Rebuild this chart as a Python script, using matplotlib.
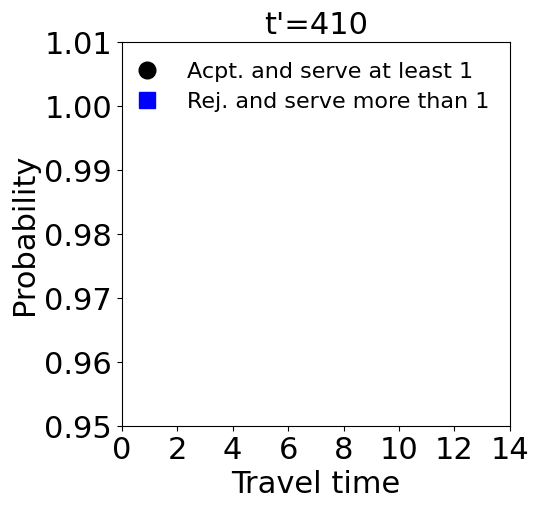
import numpy as np
import matplotlib.pyplot as plt

# travel time / probability pairs -- nothing falls inside the plotted window
travel_acpt = []
prob_acpt = []
travel_rej = []
prob_rej = []

x_ticks = [0, 2, 4, 6, 8, 10, 12, 14]
y_ticks = [0.95, 0.96, 0.97, 0.98, 0.99, 1.00, 1.01]

fig = plt.figure(figsize=(5.39, 5.09), dpi=100)
ax = fig.add_axes([0.226, 0.163, 0.72, 0.754])

ax.plot(travel_acpt, prob_acpt, 'o', color='black', markersize=12,
        label='Acpt. and serve at least 1')
ax.plot(travel_rej, prob_rej, 's', color='blue', markersize=12,
        label='Rej. and serve more than 1')

ax.set_xlim(0, 14)
ax.set_ylim(0.95, 1.01)
ax.set_xticks(x_ticks)
ax.set_yticks(y_ticks)
ax.set_yticklabels(['%.2f' % v for v in y_ticks])
ax.tick_params(labelsize=22)
ax.set_xlabel('Travel time', fontsize=22, labelpad=4)
ax.set_ylabel('Probability', fontsize=22, labelpad=4)
ax.set_title("t'=410", fontsize=22)
ax.legend(loc='upper left', frameon=False, fontsize=16,
          handlelength=0.46, handletextpad=1.57, labelspacing=0.45)

plt.savefig('out.png', dpi=100)
